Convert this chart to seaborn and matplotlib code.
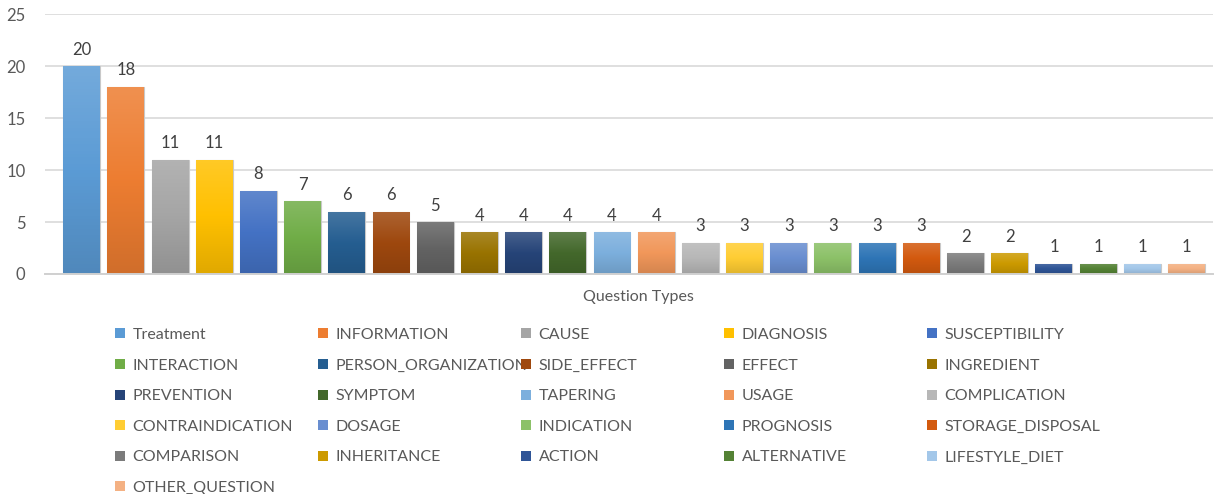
import numpy as np
import matplotlib
matplotlib.use("Agg")
import matplotlib.pyplot as plt
import seaborn as sns
from matplotlib.colors import LinearSegmentedColormap, to_rgb
from matplotlib.patches import Patch

# Data
categories = ["Treatment", "INFORMATION", "CAUSE", "DIAGNOSIS", "SUSCEPTIBILITY",
              "INTERACTION", "PERSON_ORGANIZATION", "SIDE_EFFECT", "EFFECT", "INGREDIENT",
              "PREVENTION", "SYMPTOM", "TAPERING", "USAGE", "COMPLICATION",
              "CONTRAINDICATION", "DOSAGE", "INDICATION", "PROGNOSIS", "STORAGE_DISPOSAL",
              "COMPARISON", "INHERITANCE", "ACTION", "ALTERNATIVE", "LIFESTYLE_DIET",
              "OTHER_QUESTION"]
counts = [20, 18, 11, 11, 8, 7, 6, 6, 5, 4, 4, 4, 4, 4, 3, 3, 3, 3, 3, 3, 2, 2, 1, 1, 1, 1]
bar_colors = ["#5B9BD5", "#ED7D31", "#A5A5A5", "#FFC000", "#4472C4",
              "#70AD47", "#255E91", "#9E480E", "#636363", "#997300",
              "#264478", "#43682B", "#7CAFDD", "#F1975A", "#B7B7B7",
              "#FFCD33", "#698ED0", "#8CC168", "#2E75B6", "#D35A0F",
              "#7B7B7B", "#CC9A00", "#2F5597", "#548235", "#A3C7E9",
              "#F4B183"]
y_ticks = [0, 5, 10, 15, 20, 25]
x_title = "Question Types"

sns.set_theme(style="white")
plt.rcParams["font.family"] = ["Lato", "DejaVu Sans"]
text_grey = "#595959"

fig = plt.figure(figsize=(12.15, 4.94), dpi=100)
ax = fig.add_axes([45 / 1215, 1 - 274 / 494, (1213 - 45) / 1215, 260 / 494])

sns.barplot(x=categories, y=counts, hue=categories, palette=bar_colors,
            legend=False, width=0.835, saturation=1, ax=ax, zorder=3)


def shade(c, f):
    r = np.array(to_rgb(c))
    if f > 0:
        return tuple(r + (1 - r) * f)
    return tuple(r * (1 + f))


# Excel-like vertical gradient in every bar
for patch, col in zip(ax.patches, bar_colors):
    x0, y0 = patch.get_x(), patch.get_y()
    w, h = patch.get_width(), patch.get_height()
    cmap = LinearSegmentedColormap.from_list("g", [shade(col, -0.12), col, shade(col, 0.15)])
    grad = np.linspace(0, 1, 64).reshape(-1, 1)
    im = ax.imshow(grad, extent=[x0, x0 + w, y0, y0 + h], origin="lower",
                   cmap=cmap, aspect="auto", zorder=3)
    im.set_clip_path(patch)
    patch.set_edgecolor("#C8C8C8")
    patch.set_linewidth(0.8)

for cont in ax.containers:
    ax.bar_label(cont, padding=6, fontsize=12, color="#404040")

ax.set_xlim(-0.83, 25.6)
ax.set_ylim(0, 25)
ax.set_yticks(y_ticks)
ax.set_xticks([])
ax.set_xlabel("")
ax.set_ylabel("")
ax.tick_params(axis="y", length=0, labelsize=12, labelcolor=text_grey, pad=14)
ax.yaxis.grid(True, color="#D9D9D9", linewidth=1.2, zorder=0)
for s in ["top", "right", "left"]:
    ax.spines[s].set_visible(False)
ax.spines["bottom"].set_color("#D0D0D0")
ax.spines["bottom"].set_linewidth(1.4)
ax.spines["bottom"].set_zorder(4)

fig.text(638 / 1215, 1 - 297 / 494, x_title, ha="center", va="center",
         fontsize=11.5, color=text_grey)

# Legend: 5 evenly spaced columns, filled row by row
col_x = [115, 318, 521, 724, 927]
for c in range(5):
    idx = list(range(c, len(categories), 5))
    handles = [Patch(facecolor=bar_colors[i], edgecolor="none") for i in idx]
    labels = [categories[i] for i in idx]
    leg = fig.legend(handles, labels, loc="upper left",
                     bbox_to_anchor=(col_x[c] / 1215, 1 - 328 / 494),
                     frameon=False, borderpad=0, borderaxespad=0,
                     handlelength=0.6, handleheight=0.6, handletextpad=0.5,
                     labelspacing=1.04, fontsize=11.5, labelcolor=text_grey)

fig.savefig("out.png", dpi=100)
